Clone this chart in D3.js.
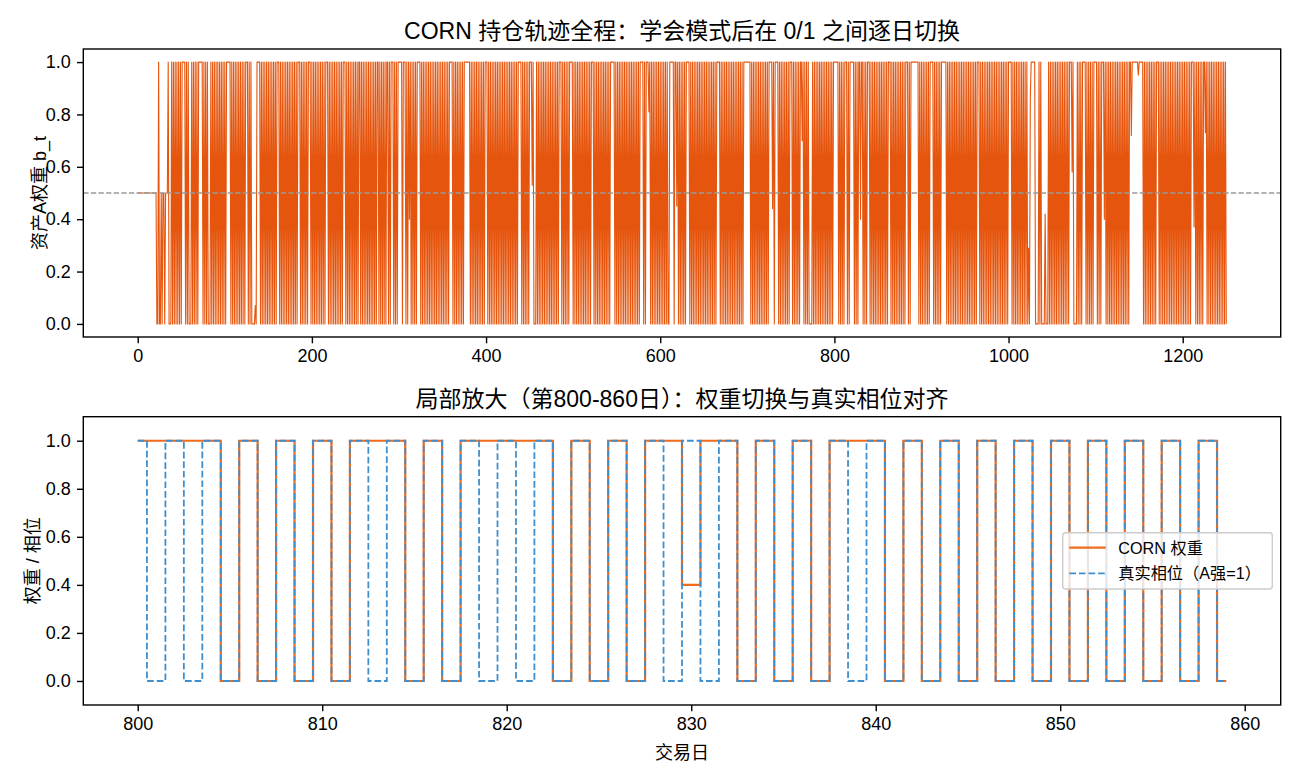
<!DOCTYPE html>
<html>
<head>
<meta charset="utf-8">
<script src="https://cdn.jsdelivr.net/npm/d3@7"></script>
<style>
    body { margin: 0; background: #fff; }
    text { font-family: "Liberation Sans", "Noto Sans CJK SC", sans-serif; fill: #000; }
</style>
</head>
<body>
<script>
// daily weight of asset A, one character per trading day (0..1250)
// "1" = 1.0, "0" = 0.0, "h" = 0.5, "x" = partial weight listed in spikeDays / spikeValues
const weightCodes = [
    "hhhhhhhhhh","hhhhhhhhhh","hh00100h0h","h0hhh10001","0101010101",
    "0111101010","0010101010","1111101010","1000101010","1010101010",
    "1011111010","1010101010","1010111010","10000x0111","1010101010",
    "1010101010","1110101010","1010101010","1010111010","1010101110",
    "1010101010","1010101110","1010101010","1010101110","1010101010",
    "1010110101","0101010101","0101011010","1010101101","0111010101",
    "1111011101","01x1010101","0111101010","1010101010","1010101010",
    "1010101011","1101010101","0101011111","1101010101","0101010101",
    "1101010101","0101010101","0101010101","0101010111","1010101010",
    "111x100010","1010101010","1010101010","1010111010","1010101111",
    "0101010101","0101010101","0111010101","0101010101","0101111101",
    "0101010101","0101010101","0101010111","1010111x10","1010101010",
    "1010101010","011111011x","1010101010","1111010101","0101010101",
    "0101010101","0101011110","1010101010","1010101010","1010101111",
    "1111010101","0101010101","010101111x","1011110101","0101010101",
    "1101010101","011x101010","1000010101","0101010101","0101010101",
    "1111101010","1011101011","1110101011","x110101011","1010101010",
    "1010101010","1011101010","1010101010","1011101011","1111111010",
    "1010101010","1111010101","0101111110","1010101010","1010101010",
    "1010101010","1010111010","1010101010","1010101010","1010101010",
    "1111010101","0101010101","010x0x1111","1000010100","00x0001010",
    "1010101010","1010101010","111x100001","0101011110","1010101011",
    "1101010111","x101010101","0101010101","0101010101","1x1111111x",
    "1111101010","1010101010","1110101010","1010101010","1010101010",
    "1010101010","111x101010","101011x101","0101010101","0101010101","0"
].join("");

const spikeDays   = [135, 312, 453, 587, 619, 729, 763, 830, 1023, 1025, 1042, 1073, 1110, 1141, 1149, 1213, 1226];
const spikeValues = [0.07, 0.40, 0.53, 0.81, 0.45, 0.44, 0.70, 0.40, 0.29, 0.87, 0.42, 0.58, 0.40, 0.72, 0.95, 0.37, 0.73];

// true phase (A strong = 1) for days 800..859
const zoomStart = 800;
const truePhase = [
    1,0,1,0,1,0,1,0,1,0, 1,0,1,0,1,0,1,0,1,0,
    1,0,1,0,1,0,1,0,1,0, 1,0,1,0,1,0,1,0,1,0,
    1,0,1,0,1,0,1,0,1,0, 1,0,1,0,1,0,1,0,1,0
];

const topTicksX = [0, 200, 400, 600, 800, 1000, 1200];
const zoomTicksX = [800, 810, 820, 830, 840, 850, 860];
const ticksY = [0, 0.2, 0.4, 0.6, 0.8, 1.0];

const codeValue = { "1": 1, "0": 0, "h": 0.5 };
const weights = Array.from(weightCodes, (c, i) =>
    c === "x" ? spikeValues[spikeDays.indexOf(i)] : codeValue[c]);
const series = weights.map((w, i) => ({ day: i, w: w }));
const zoomSeries = truePhase.map((p, i) => ({
    day: zoomStart + i,
    w: weights[zoomStart + i],
    phase: p
}));

const svgWidth = 1300;
const svgHeight = 780;
const left = 83.3;
const right = 1280.7;
const topPanel = { top: 49, bottom: 337 };
const zoomPanel = { top: 416.7, bottom: 705 };
const orange = "#e6550d";
const orangeZoom = "#f26a1b";
const blue = "#3f8fce";

const svg = d3.select("body")
    .append("svg")
    .attr("width", svgWidth)
    .attr("height", svgHeight);

const styleAxis = (g) => {
    g.select(".domain").remove();
    g.selectAll(".tick line").attr("stroke", "#000").attr("stroke-width", 1.4);
    g.selectAll(".tick text").style("font-size", "18px").attr("fill", "#000");
};

const drawFrame = (panel) => {
    svg.append("rect")
        .attr("x", left)
        .attr("y", panel.top)
        .attr("width", right - left)
        .attr("height", panel.bottom - panel.top)
        .attr("fill", "none")
        .attr("stroke", "#000")
        .attr("stroke-width", 1.4);
};

// ---------- top panel: full trajectory ----------
const xTop = d3.scaleLinear().domain([-62.5, 1312.5]).range([left, right]);
const yTop = d3.scaleLinear().domain([-0.05, 1.05]).range([topPanel.bottom, topPanel.top]);

svg.append("path")
    .datum(series)
    .attr("fill", "none")
    .attr("stroke", orange)
    .attr("stroke-width", 1.1)
    .attr("stroke-linejoin", "round")
    .attr("d", d3.line().x(d => xTop(d.day)).y(d => yTop(d.w)));

svg.append("line")
    .attr("x1", left).attr("x2", right)
    .attr("y1", yTop(0.5)).attr("y2", yTop(0.5))
    .attr("stroke", "#999")
    .attr("stroke-width", 1.3)
    .attr("stroke-dasharray", "5.3,2.3");

drawFrame(topPanel);

svg.append("g")
    .attr("transform", `translate(0,${topPanel.bottom})`)
    .call(d3.axisBottom(xTop).tickValues(topTicksX).tickFormat(d3.format("d")).tickSize(6.3).tickPadding(6.3))
    .call(styleAxis);

svg.append("g")
    .attr("transform", `translate(${left},0)`)
    .call(d3.axisLeft(yTop).tickValues(ticksY).tickFormat(d3.format(".1f")).tickSize(6.3).tickPadding(6.3))
    .call(styleAxis);

svg.append("text")
    .attr("x", (left + right) / 2)
    .attr("y", 39)
    .attr("text-anchor", "middle")
    .style("font-size", "23px")
    .text("CORN 持仓轨迹全程：学会模式后在 0/1 之间逐日切换");

svg.append("text")
    .attr("transform", `translate(40,${(topPanel.top + topPanel.bottom) / 2}) rotate(-90)`)
    .attr("text-anchor", "middle")
    .attr("dominant-baseline", "central")
    .style("font-size", "18px")
    .text("资产A权重 b_t");

// ---------- bottom panel: zoom 800-860 ----------
const xZoom = d3.scaleLinear().domain([797.05, 861.95]).range([left, right]);
const yZoom = d3.scaleLinear().domain([-0.1, 1.1]).range([zoomPanel.bottom, zoomPanel.top]);

svg.append("path")
    .datum(zoomSeries)
    .attr("fill", "none")
    .attr("stroke", orangeZoom)
    .attr("stroke-width", 2.2)
    .attr("d", d3.line().curve(d3.curveStep).x(d => xZoom(d.day)).y(d => yZoom(d.w)));

svg.append("path")
    .datum(zoomSeries)
    .attr("fill", "none")
    .attr("stroke", blue)
    .attr("stroke-width", 1.8)
    .attr("stroke-dasharray", "6.7,2.9")
    .attr("d", d3.line().curve(d3.curveStep).x(d => xZoom(d.day)).y(d => yZoom(d.phase)));

drawFrame(zoomPanel);

svg.append("g")
    .attr("transform", `translate(0,${zoomPanel.bottom})`)
    .call(d3.axisBottom(xZoom).tickValues(zoomTicksX).tickFormat(d3.format("d")).tickSize(6.3).tickPadding(6.3))
    .call(styleAxis);

svg.append("g")
    .attr("transform", `translate(${left},0)`)
    .call(d3.axisLeft(yZoom).tickValues(ticksY).tickFormat(d3.format(".1f")).tickSize(6.3).tickPadding(6.3))
    .call(styleAxis);

svg.append("text")
    .attr("x", (left + right) / 2)
    .attr("y", 406.5)
    .attr("text-anchor", "middle")
    .style("font-size", "23px")
    .text("局部放大（第800-860日）：权重切换与真实相位对齐");

svg.append("text")
    .attr("transform", `translate(33,${(zoomPanel.top + zoomPanel.bottom) / 2}) rotate(-90)`)
    .attr("text-anchor", "middle")
    .attr("dominant-baseline", "central")
    .style("font-size", "18px")
    .text("权重 / 相位");

svg.append("text")
    .attr("x", (left + right) / 2)
    .attr("y", 759)
    .attr("text-anchor", "middle")
    .style("font-size", "18px")
    .text("交易日");

// legend
const legend = svg.append("g").attr("transform", "translate(1062.7,532.7)");
legend.append("rect")
    .attr("width", 209.6)
    .attr("height", 56.3)
    .attr("rx", 3)
    .attr("fill", "rgba(255,255,255,0.8)")
    .attr("stroke", "#cccccc")
    .attr("stroke-width", 1.4);
legend.append("line")
    .attr("x1", 6.6).attr("x2", 43)
    .attr("y1", 15).attr("y2", 15)
    .attr("stroke", orangeZoom)
    .attr("stroke-width", 2.2);
legend.append("line")
    .attr("x1", 6.6).attr("x2", 43)
    .attr("y1", 40.6).attr("y2", 40.6)
    .attr("stroke", blue)
    .attr("stroke-width", 1.8)
    .attr("stroke-dasharray", "6.7,2.9");
legend.append("text")
    .attr("x", 55.6).attr("y", 15)
    .attr("dominant-baseline", "central")
    .style("font-size", "16.2px")
    .text("CORN 权重");
legend.append("text")
    .attr("x", 55.6).attr("y", 40.6)
    .attr("dominant-baseline", "central")
    .style("font-size", "16.2px")
    .text("真实相位（A强=1）");
</script>
</body>
</html>
